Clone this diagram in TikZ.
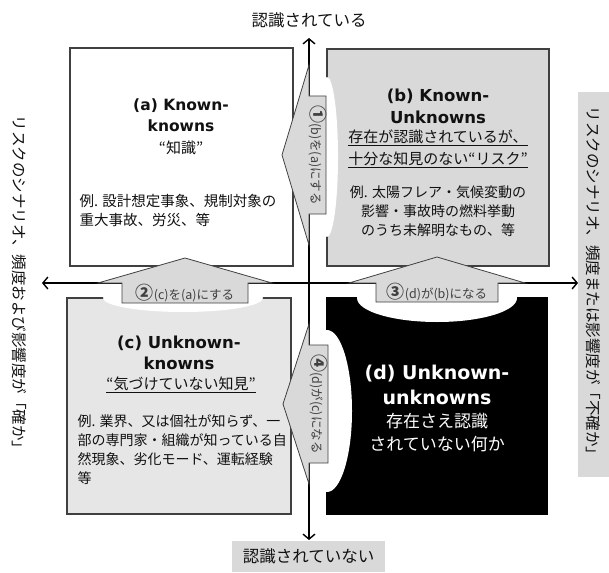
\documentclass[tikz,border=0pt]{standalone}
\usepackage{fontspec}
\setmainfont{Noto Sans CJK JP}
\newfontfamily\ttl{DejaVu Sans}
\usetikzlibrary{arrows.meta}
\definecolor{bord}{HTML}{404040}
\definecolor{gb}{HTML}{D9D9D9}
\definecolor{gc}{HTML}{E6E6E6}
\definecolor{txt}{HTML}{111111}
\begin{document}
\begin{tikzpicture}[x=1pt,y=-1pt,
  box/.style={draw=bord, line width=1.2pt, inner sep=0pt, outer sep=0pt, anchor=north west},
  blk/.style={draw=bord, line width=0.8pt, fill=gb, line join=miter},
  axis/.style={line width=1.5pt, -{Straight Barb[length=5pt,width=12pt,line width=1.4pt]}},
  tt/.style={font=\ttl\bfseries\fontsize{#1}{#1}\selectfont, align=center, text=txt},
  jp/.style={font=\fontsize{#1}{#1}\selectfont, text=txt},
  alab/.style={font=\fontsize{12.5}{13}\selectfont, text=bord, inner sep=0pt}]
\useasboundingbox (0,0) rectangle (609,572);
% boxes
\node[box, fill=white, minimum width=223pt, minimum height=218pt] (A) at (70,48) {};
\node[box, fill=gb, minimum width=222pt, minimum height=217pt] (B) at (327,49) {};
\node[box, fill=gc, minimum width=224pt, minimum height=216pt] (C) at (67,298) {};
\node[box, fill=black, draw=black, minimum width=220pt, minimum height=216pt] (D) at (327,298) {};
% white bulges
\fill[white] (327,157) ellipse [x radius=11pt, y radius=80pt];
\fill[white] (327,411) ellipse [x radius=25pt, y radius=81pt];
\fill[white] (183,298) ellipse [x radius=80pt, y radius=14pt];
\fill[white] (437,298) ellipse [x radius=80pt, y radius=24pt];
% texts (a)
\node[tt=15.5] (at1) at (181,106) {(a) Known-};
\node[tt=15.5] (at2) at (181,126) {knowns};
\node[jp=15] (as) at (181,148) {“知識”};
\node[jp=14.5, anchor=west] (ae1) at (76,201) {例. 設計想定事象、規制対象の};
\node[jp=14.5, anchor=west] (ae2) at (76,220) {重大事故、労災、等};
% texts (b)
\node[tt=16.5] (bt1) at (438,96) {(b) Known-};
\node[tt=16.5] (bt2) at (438,117) {Unknowns};
\node[jp=15] (bs1) at (438,138) {\underline{存在が認識されているが、}};
\node[jp=15] (bs2) at (438,160) {\underline{十分な知見のない“リスク”}};
\node[jp=14] (be1) at (438,192) {例. 太陽フレア・気候変動の};
\node[jp=14] (be2) at (438,211) {影響・事故時の燃料挙動};
\node[jp=14] (be3) at (438,230) {のうち未解明なもの、等};
% texts (c)
\node[tt=16.5] (ct1) at (179,343) {(c) Unknown-};
\node[tt=16.5] (ct2) at (179,363) {knowns};
\node[jp=15] (cs) at (181,385) {\underline{“気づけていない知見”}};
\node[jp=14, anchor=west] (ce1) at (74,421) {例. 業界、又は個社が知らず、一};
\node[jp=14, anchor=west] (ce2) at (74,440) {部の専門家・組織が知っている自};
\node[jp=14, anchor=west] (ce3) at (74,459) {然現象、劣化モード、運転経験};
\node[jp=14, anchor=west] (ce4) at (74,478) {等};
% texts (d)
\node[tt=19, text=white] (dt1) at (437,374) {(d) Unknown-};
\node[tt=19, text=white] (dt2) at (437,397) {unknowns};
\node[jp=17, text=white] (ds1) at (437,421) {存在さえ認識};
\node[jp=17, text=white] (ds2) at (437,444) {されていない何か};
% axes
\coordinate (O) at (309,283);
\coordinate (Tp) at (309,38);
\coordinate (Bt) at (309,540);
\coordinate (Lf) at (42,283);
\coordinate (Rt) at (578,283);
\draw[axis] (O) -- (Tp);
\draw[axis] (O) -- (Bt);
\draw[axis] (O) -- (Lf);
\draw[axis] (O) -- (Rt);
% block arrows
\draw[blk] (282,155) -- (309,65) -- (309,96) -- (326,96) -- (326,214) -- (309,214) -- (309,245) -- cycle;
\draw[blk] (185,258) -- (98,283) -- (122,283) -- (122,303) -- (248,303) -- (248,283) -- (272,283) -- cycle;
\draw[blk] (437,257) -- (349,283) -- (376,283) -- (376,302) -- (498,302) -- (498,283) -- (525,283) -- cycle;
\draw[blk] (283,404) -- (309,324) -- (309,345) -- (328,345) -- (328,463) -- (309,463) -- (309,484) -- cycle;
\node[alab, rotate=-90] (l1) at (317.5,155) {{\fontsize{18}{18}\selectfont\bfseries ①}(b)を(a)にする};
\node[alab] (l2) at (185,293) {{\fontsize{18}{18}\selectfont\bfseries ②}(c)を(a)にする};
\node[alab] (l3) at (437,292.5) {{\fontsize{18}{18}\selectfont\bfseries ③}(d)が(b)になる};
\node[alab, rotate=-90] (l4) at (318.5,404) {{\fontsize{18}{18}\selectfont\bfseries ④}(d)が(c)になる};
% outer labels
\node[jp=16.5] (toplab) at (309,20) {認識されている};
\node[jp=16.5, fill=gb, minimum width=153pt, minimum height=31pt, inner sep=0pt] (botlab) at (308.5,556.5) {認識されていない};
\node[jp=15.5, rotate=-90] (leftlab) at (19,286) {リスクのシナリオ、頻度および影響度が「確か」};
\node[jp=15.5, rotate=-90, fill=gb, minimum width=385pt, minimum height=31pt, inner sep=0pt] (rightlab) at (593.5,284.5) {リスクのシナリオ、頻度または影響度が「不確か」};
\end{tikzpicture}
\end{document}
